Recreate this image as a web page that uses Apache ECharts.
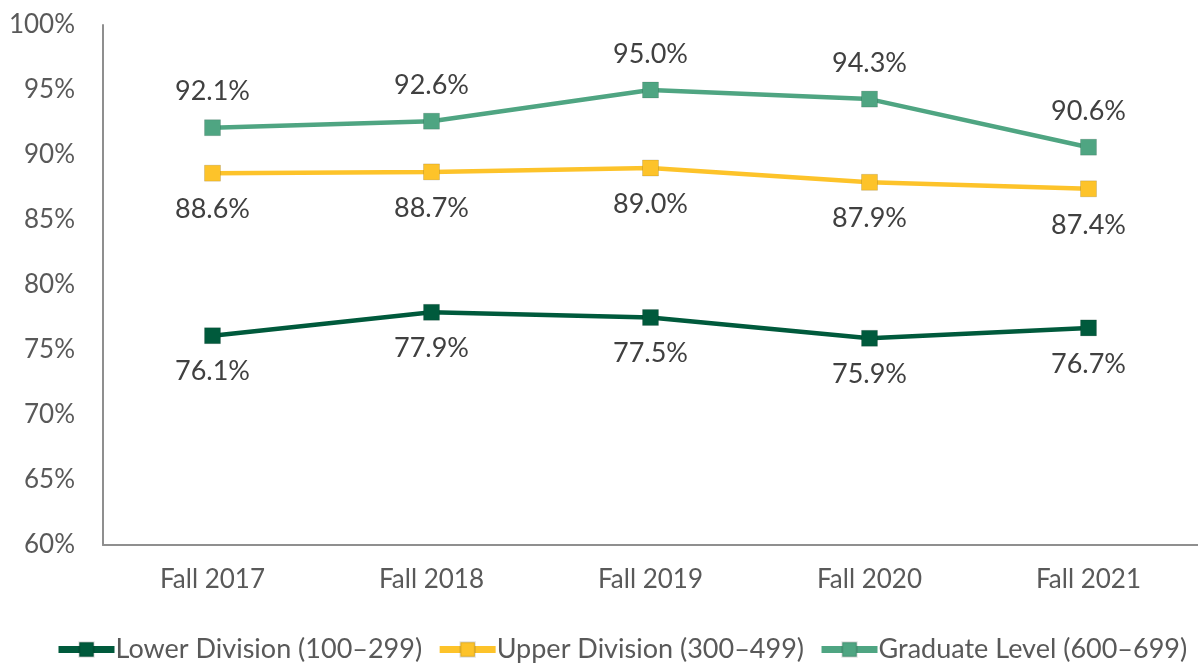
<!DOCTYPE html>
<html><head><meta charset="utf-8">
<script src="https://cdn.jsdelivr.net/npm/echarts@6/dist/echarts.min.js"></script>
<style>html,body{margin:0;padding:0;background:#fff}#c{width:1198px;height:665px}</style>
</head><body><div id="c"></div>
<script>
const categories = ['Fall 2017','Fall 2018','Fall 2019','Fall 2020','Fall 2021'];
const lowerDivision = [76.1, 77.9, 77.5, 75.9, 76.7];
const upperDivision = [88.6, 88.7, 89.0, 87.9, 87.4];
const graduateLevel = [92.1, 92.6, 95.0, 94.3, 90.6];
const seriesNames = ['Lower Division (100\u2013299)','Upper Division (300\u2013499)','Graduate Level (600\u2013699)'];
const colors = ['#005a3c','#fdc32a','#4fa582'];
const FONT = 'Lato, "Open Sans", sans-serif';
const chart = echarts.init(document.getElementById('c'));
function mk(name, data, color, pos){
  return {name, type:'line', data, symbol:'rect', symbolSize:16,
    lineStyle:{width:4.5,color}, itemStyle:{color, borderColor:'rgba(0,0,0,0.12)', borderWidth:1},
    label:{show:true, position:pos, distance:14, formatter:p=>p.value.toFixed(1)+'%', fontFamily:FONT, fontSize:27, color:'#404040'},
    z: 3};
}
chart.setOption({
  animation:false,
  textStyle:{fontFamily:FONT},
  grid:{left:103, right:-5, top:25, bottom:120, containLabel:false},
  xAxis:{type:'category', data:categories, boundaryGap:true,
    axisLine:{lineStyle:{color:'#8f8f8f', width:2}}, axisTick:{show:false},
    axisLabel:{fontFamily:FONT, fontSize:26, color:'#595959', margin:22}},
  yAxis:{type:'value', min:60, max:100, interval:5,
    axisLine:{show:true, lineStyle:{color:'#8f8f8f', width:2}}, axisTick:{show:false}, splitLine:{show:false},
    axisLabel:{fontFamily:FONT, fontSize:26, color:'#595959', margin:28, formatter:v=>v+'%'}},
  legend:{top:631, left:50, itemWidth:56, itemHeight:18, itemGap:14,
    lineStyle:{width:7},
    textStyle:{fontFamily:FONT, fontSize:27, color:'#595959', padding:[0,0,0,-4]},
    data:seriesNames},
  series:[
    mk(seriesNames[0], lowerDivision, colors[0], 'bottom'),
    mk(seriesNames[1], upperDivision, colors[1], 'bottom'),
    mk(seriesNames[2], graduateLevel, colors[2], 'top')
  ]
});
</script></body></html>
